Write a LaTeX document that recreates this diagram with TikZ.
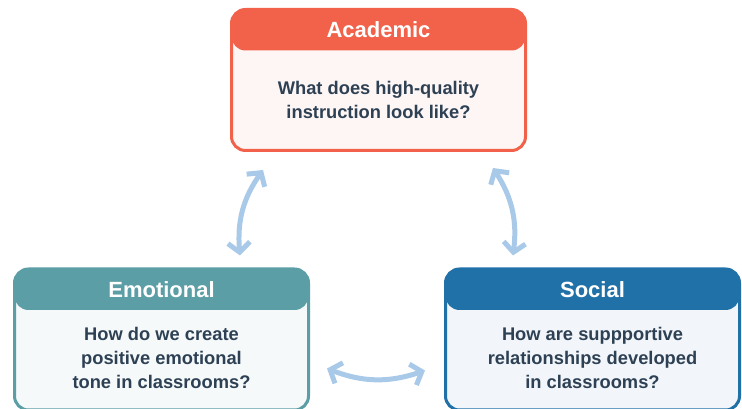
\documentclass[tikz,border=0pt]{standalone}
\usepackage{fontspec}
\setmainfont{Liberation Sans}
\usetikzlibrary{arrows.meta,positioning}

\definecolor{acadred}{HTML}{F2624A}
\definecolor{emoteal}{HTML}{5B9EA6}
\definecolor{socblue}{HTML}{2171A9}
\definecolor{textdark}{HTML}{2E4154}
\definecolor{linkblue}{HTML}{A9C9E9}

\begin{document}
\begin{tikzpicture}
  [x=1pt,y=1pt,
   panel/.style={draw=#1,fill=#1!6,line width=3pt,rounded corners=14pt,
     minimum width=294pt,minimum height=141pt,
     path picture={\fill[#1] (path picture bounding box.north west)
       rectangle ([yshift=-41pt]path picture bounding box.north east);}},
   title/.style={font=\bfseries\fontsize{22}{26}\selectfont,text=white},
   question/.style={align=center,font=\bfseries\fontsize{18.3}{24}\selectfont,text=textdark},
   link/.style={draw=linkblue,line width=5pt,
     {Straight Barb[length=9.5pt,width=22pt]}-{Straight Barb[length=9.5pt,width=22pt]}}]

  \path[use as bounding box,clip] (0,0) rectangle (742,409);

  % the three panels
  \node[panel=acadred] (acad) at (378.5,329) {};
  \node[panel=emoteal] (emo)  at (161.5,69.5) {};
  \node[panel=socblue] (soc)  at (592.5,69.5) {};

  \node[title] (acad-title) at ([yshift=-22pt]acad.north) {Academic};
  \node[title] (emo-title)  at ([yshift=-22.5pt]emo.north) {Emotional};
  \node[title] (soc-title)  at ([yshift=-22.5pt]soc.north) {Social};

  \node[question] (acad-q) at ([yshift=-92pt]acad.north)
    {What does high-quality\\ instruction look like?};
  \node[question] (emo-q) at ([yshift=-90pt]emo.north)
    {How do we create\\ positive emotional\\ tone in classrooms?};
  \node[question] (soc-q) at ([yshift=-90pt]soc.north)
    {How are suppportive\\ relationships developed\\ in classrooms?};

  % links
  \draw[link] ([xshift=33pt,yshift=-18pt]acad.south west)
    to[bend right=20] ([xshift=-70pt,yshift=12pt]emo.north east);
  \draw[link] ([xshift=-34pt,yshift=-16pt]acad.south east)
    to[bend left=20] ([xshift=69pt,yshift=12pt]soc.north west);
  \draw[link] ([xshift=17pt,yshift=-101pt]emo.north east)
    to[bend right=20] ([xshift=-19pt,yshift=-103pt]soc.north west);

\end{tikzpicture}
\end{document}
